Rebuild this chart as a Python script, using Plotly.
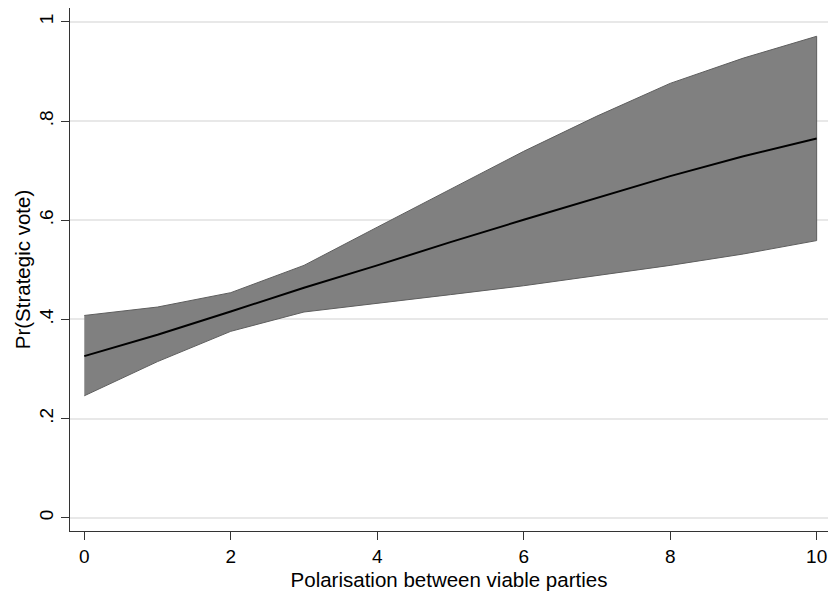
import plotly.graph_objects as go

x_vals = [0, 1, 2, 3, 4, 5, 6, 7, 8, 9, 10]
mean_vals = [0.326, 0.369, 0.416, 0.464, 0.509, 0.556, 0.601, 0.645, 0.689, 0.729, 0.765]
upper_vals = [0.408, 0.425, 0.454, 0.509, 0.586, 0.662, 0.739, 0.810, 0.876, 0.927, 0.971]
lower_vals = [0.246, 0.315, 0.376, 0.415, 0.433, 0.450, 0.468, 0.488, 0.509, 0.532, 0.559]

y_tickvals = [0, 0.2, 0.4, 0.6, 0.8, 1]
y_ticktext = ["0", ".2", ".4", ".6", ".8", "1"]
x_tickvals = [0, 2, 4, 6, 8, 10]
x_ticktext = ["0", "2", "4", "6", "8", "10"]

font_family = "Liberation Sans, Arial, sans-serif"
tick_fs = 19
title_fs = 20.5

fig = go.Figure()

fig.add_trace(go.Scatter(
    x=x_vals + x_vals[::-1],
    y=upper_vals + lower_vals[::-1],
    fill="toself",
    fillcolor="#808080",
    line=dict(color="#5e5e5e", width=1),
    mode="lines",
    hoverinfo="skip",
    showlegend=False,
))

fig.add_trace(go.Scatter(
    x=x_vals,
    y=mean_vals,
    mode="lines",
    line=dict(color="#000000", width=2),
    showlegend=False,
))

fig.update_layout(
    width=828,
    height=591,
    margin=dict(l=70, r=0, t=8, b=60),
    paper_bgcolor="white",
    plot_bgcolor="white",
    font=dict(family=font_family, size=tick_fs, color="#000000"),
    xaxis=dict(
        range=[-0.195, 10.155],
        tickvals=x_tickvals,
        ticktext=x_ticktext,
        ticks="outside",
        ticklen=8,
        tickwidth=1.2,
        tickcolor="#333333",
        showline=True,
        linecolor="#333333",
        linewidth=1.3,
        showgrid=False,
        zeroline=False,
        ticklabeloverflow="allow",
        title=dict(text="Polarisation between viable parties", standoff=7,
                   font=dict(size=title_fs)),
        tickfont=dict(size=tick_fs),
    ),
    yaxis=dict(
        range=[-0.0266, 1.028],
        tickvals=y_tickvals,
        ticktext=y_ticktext,
        tickangle=-90,
        ticks="outside",
        ticklen=8,
        tickwidth=1.2,
        tickcolor="#333333",
        showline=True,
        linecolor="#333333",
        linewidth=1.3,
        showgrid=True,
        gridcolor="#e8e8e8",
        gridwidth=1.5,
        zeroline=False,
        ticklabeloverflow="allow",
        title=dict(text="Pr(Strategic vote)", standoff=0, font=dict(size=title_fs)),
        tickfont=dict(size=tick_fs),
    ),
)

fig.write_html("out.html")
